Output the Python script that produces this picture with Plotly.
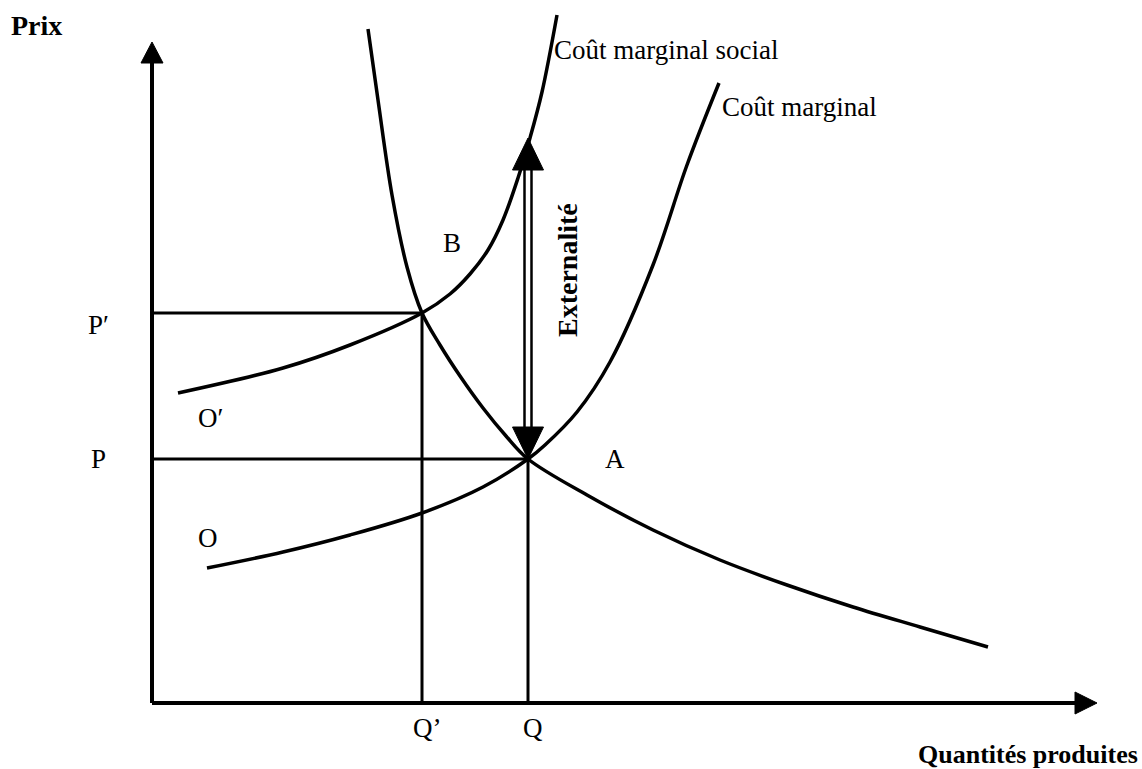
import plotly.graph_objects as go

# ---- data (quantity, price) ----
demand_q = [21.6, 22.6, 24.0, 25.5, 27.0, 28.8, 30.8, 33.1, 35.4, 37.6, 43.5, 50.1, 56.8, 63.5, 70.1, 76.8, 83.6]
demand_p = [67.4, 60.3, 50.8, 43.6, 39.0, 35.8, 32.7, 29.5, 26.7, 24.4, 20.8, 17.3, 14.3, 11.8, 9.6, 7.6, 5.6]

mc_q = [5.5, 13.1, 19.8, 27.0, 33.1, 37.6, 39.3, 42.5, 45.8, 50.1, 53.5, 56.7]
mc_p = [13.5, 15.1, 16.8, 19.0, 21.6, 24.4, 25.8, 29.1, 34.1, 43.8, 53.8, 62.0]

smc_q = [2.6, 13.1, 19.8, 27.0, 29.8, 31.8, 33.6, 35.1, 36.6, 37.8, 39.0, 40.5]
smc_p = [31.0, 33.5, 35.8, 39.0, 40.9, 42.9, 45.3, 48.3, 52.5, 56.5, 61.1, 68.8]

Q_eq, P_eq = 37.6, 24.4        # point A
Q_soc, P_soc = 27.0, 39.0      # point B
ext_top = 56.5                 # top of externality arrow
axis_x_max, axis_y_max = 94.5, 66.1

FONT = "Liberation Serif"
BLACK = "black"

fig = go.Figure()

def line(xs, ys, width=3.5, shape="linear"):
    fig.add_trace(go.Scatter(x=xs, y=ys, mode="lines",
                             line=dict(color=BLACK, width=width, shape=shape, smoothing=1.0),
                             hoverinfo="skip", showlegend=False))

def tri(xs, ys):
    fig.add_trace(go.Scatter(x=xs, y=ys, mode="lines", fill="toself", fillcolor=BLACK,
                             line=dict(color=BLACK, width=1), hoverinfo="skip", showlegend=False))

# axes
line([0, 0], [0, axis_y_max - 2.0], width=4)
tri([-1.1, 1.1, 0, -1.1], [axis_y_max - 2.1, axis_y_max - 2.1, axis_y_max, axis_y_max - 2.1])
line([0, axis_x_max - 2.0], [0, 0], width=4)
tri([axis_x_max - 2.2, axis_x_max - 2.2, axis_x_max, axis_x_max - 2.2], [1.1, -1.1, 0, 1.1])

# guide lines
line([0, Q_soc], [P_soc, P_soc], width=3)
line([Q_soc, Q_soc], [0, P_soc], width=3)
line([0, Q_eq], [P_eq, P_eq], width=3)
line([Q_eq, Q_eq], [0, P_eq], width=3)

# curves
line(demand_q, demand_p, shape="spline")
line(mc_q, mc_p, shape="spline")
line(smc_q, smc_p, shape="spline")

# externality double arrow
line([Q_eq - 0.35, Q_eq - 0.35], [P_eq + 3.2, ext_top - 3.2], width=2.5)
line([Q_eq + 0.35, Q_eq + 0.35], [P_eq + 3.2, ext_top - 3.2], width=2.5)
tri([Q_eq - 1.55, Q_eq + 1.55, Q_eq, Q_eq - 1.55], [ext_top - 3.2, ext_top - 3.2, ext_top, ext_top - 3.2])
tri([Q_eq - 1.55, Q_eq + 1.55, Q_eq, Q_eq - 1.55], [P_eq + 3.2, P_eq + 3.2, P_eq, P_eq + 3.2])

def label(x, y, text, bold=False, size=27, xanchor="center", angle=0):
    t = f"<b>{text}</b>" if bold else text
    fig.add_annotation(x=x, y=y, text=t, showarrow=False, xanchor=xanchor, yanchor="middle",
                       textangle=angle, font=dict(family=FONT, size=size, color=BLACK))

label(-11.6, 67.8, "Prix", bold=True, size=28)
label(87.6, -5.1, "Quantités produites", bold=True, size=26)
label(40.0, 65.3, "Coût marginal social", xanchor="left")
label(56.8, 59.6, "Coût marginal", xanchor="left")
label(41.5, 43.3, "Externalité", bold=True, size=28, angle=-90)
label(30.0, 46.0, "B")
label(46.3, P_eq, "A")
label(-5.4, P_soc - 1.2, "P′")
label(-5.4, P_eq, "P")
label(5.8, 28.5, "O′")
label(5.6, 16.5, "O")
label(Q_soc + 0.5, -2.5, "Q’")
label(Q_eq + 0.5, -2.5, "Q")

fig.update_layout(
    width=1142, height=769,
    margin=dict(l=0, r=0, t=0, b=0),
    paper_bgcolor="white", plot_bgcolor="white",
    xaxis=dict(range=[-15.2, 99.0], visible=False, fixedrange=True),
    yaxis=dict(range=[-6.6, 70.3], visible=False, fixedrange=True),
    showlegend=False,
)

fig.write_html("out.html", config={"displayModeBar": False},
               post_script="document.body.style.margin='0px'; document.body.style.overflow='hidden';")
